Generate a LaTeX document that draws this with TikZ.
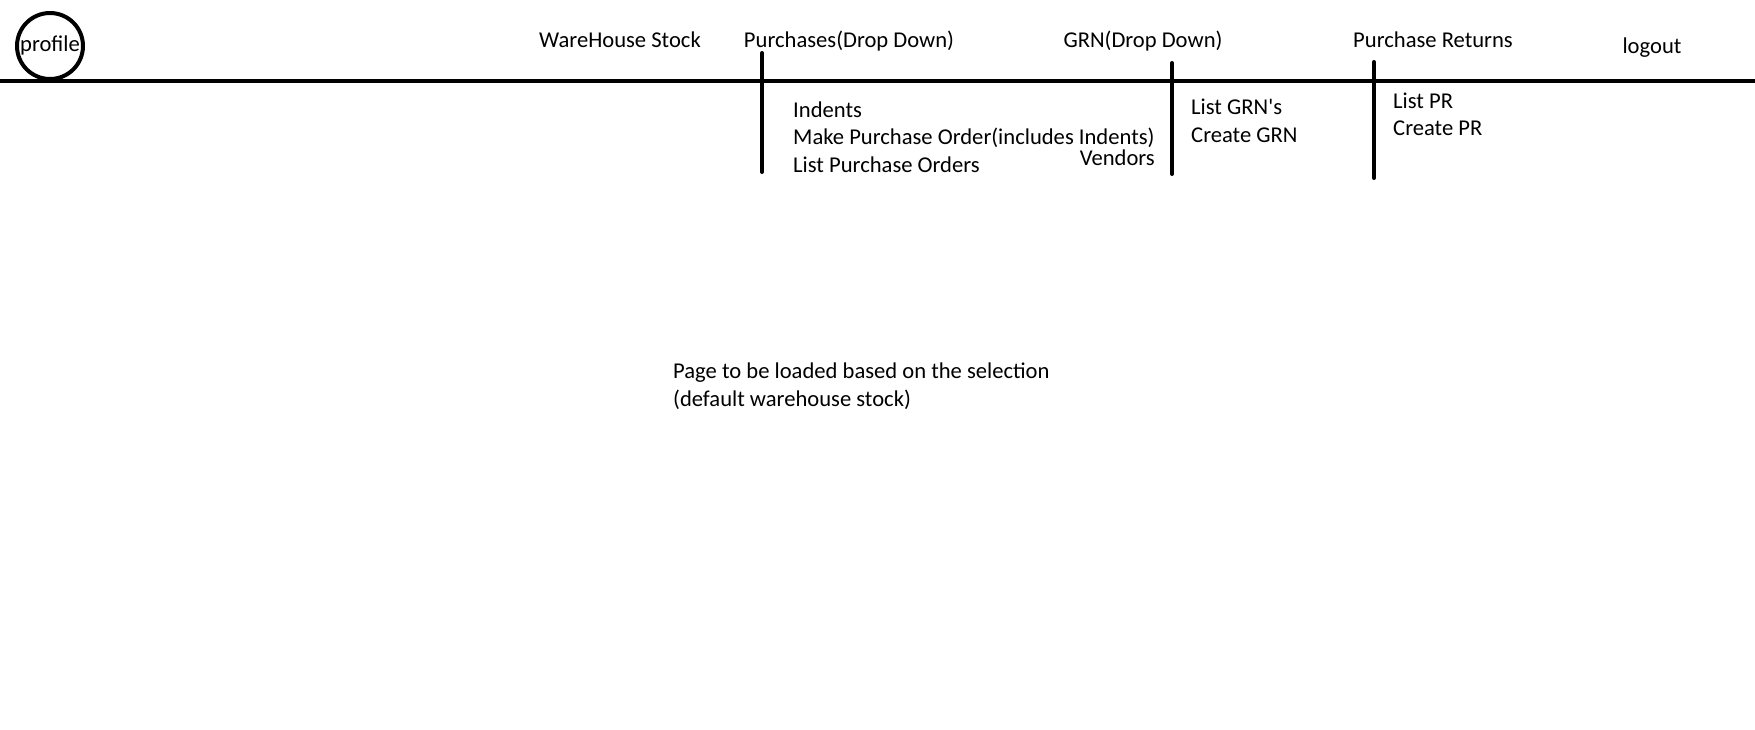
\documentclass[tikz,border=0pt]{standalone}
\usepackage{fontspec}
\setmainfont{Carlito}
\usepackage{tikz}
\usetikzlibrary{positioning}

\tikzset{
  menu/.style={inner sep=0pt, text height=0.72em, text depth=0.22em},
  item/.style={menu, anchor=west},
  bar/.style={line width=4pt, line cap=round}
}

\begin{document}
\begin{tikzpicture}[x=1pt, y=-1pt, font=\fontsize{22.6}{27}\selectfont]
\useasboundingbox (0,0) rectangle (1755,729);

\draw[line width=4pt] (50,46) circle (33);
\node[menu] (profile) at (50,49) {profile};

\draw[line width=4pt] (0,81) -- (1755,81);

\node[menu] (stock) at (620,45) {WareHouse Stock};
\node[menu] (purch) at (849,45) {Purchases(Drop Down)};
\node[menu] (grn) at (1143,45) {GRN(Drop Down)};
\node[menu] (pret) at (1433,45) {Purchase Returns};
\node[menu] (logout) at (1652,51) {logout};

\draw[bar] (762,53) -- (762,172);
\draw[bar] (1172,63) -- (1172,174);
\draw[bar] (1374,62) -- (1374,178);

\node[item] (indents) at (793,115) {Indents};
\node[item] (makepo) at (793,142) {Make Purchase Order(includes Indents)};
\node[item] (listpo) at (793,170) {List Purchase Orders};
\node[menu, anchor=east] (vendors) at (1155,163) {Vendors};

\node[item] (listgrn) at (1191,112) {List GRN\textquotesingle s};
\node[item] (creategrn) at (1191,140) {Create GRN};

\node[item] (listpr) at (1393,106) {List PR};
\node[item] (createpr) at (1393,133) {Create PR};

\node[item] (page) at (673,376) {Page to be loaded based on the selection};
\node[item] (default) at (673,404) {(default warehouse stock)};

\end{tikzpicture}
\end{document}
